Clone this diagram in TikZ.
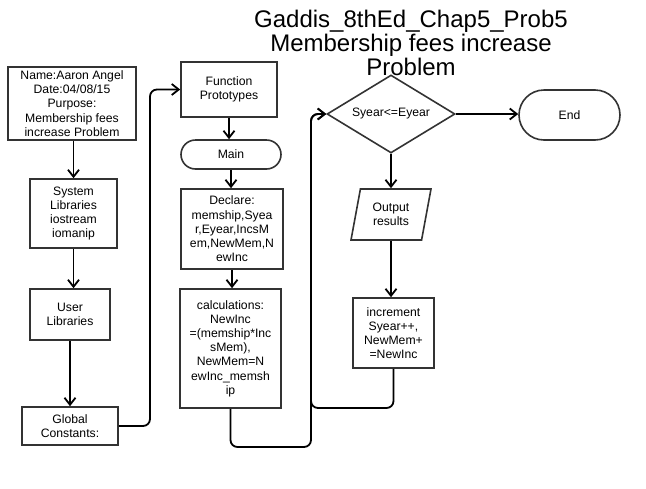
\documentclass[tikz,border=0pt]{standalone}
\usepackage{fontspec}
\setmainfont{Liberation Sans}
\usetikzlibrary{arrows.meta,shapes.geometric}
\begin{document}
\begin{tikzpicture}[x=1pt,y=-1pt,
  base/.style={draw=black!80, line width=1.6pt, align=center,
    font=\fontsize{12.2}{14.2}\selectfont, inner sep=0pt, text=black},
  box/.style={base, rectangle},
  term/.style={base, rectangle, rounded corners=#1},
  dec/.style={base, diamond, aspect=1.64},
  io/.style={base, trapezium, trapezium left angle=67.6, trapezium right angle=112.4, trapezium stretches body},
  title/.style={font=\fontsize{24}{24}\selectfont, anchor=base, inner sep=0pt},
  arr/.style={draw=black, line width=1.8pt, rounded corners=7pt,
    -{Straight Barb[length=7pt,width=11pt]}}
]
\useasboundingbox (0,0) rectangle (646,488);

\node[title] (t1) at (411,27) {Gaddis\_8thEd\_Chap5\_Prob5};
\node[title] (t2) at (411,51) {Membership fees increase};
\node[title] (t3) at (411,75) {Problem};

\node[box, minimum width=128, minimum height=73] (name) at (72,103.5)
  {Name:Aaron Angel\\Date:04/08/15\\Purpose:\\Membership fees\\increase Problem};
\node[box, minimum width=87, minimum height=69] (sys) at (73.5,213.5)
  {System\\Libraries\\iostream\\iomanip};
\node[box, minimum width=80, minimum height=51] (user) at (70,314.5)
  {User\\Libraries};
\node[box, minimum width=96, minimum height=38] (glob) at (70,426)
  {Global\\Constants:};

\node[box, minimum width=96, minimum height=55] (func) at (229,89.5)
  {Function\\Prototypes};
\node[term=14.5pt, minimum width=100, minimum height=29] (main) at (231,154.5)
  {Main};
\node[box, minimum width=102, minimum height=80] (decl) at (232,229)
  {Declare:\\memship,Syea\\r,Eyear,IncsM\\em,NewMem,N\\ewInc};
\node[box, minimum width=101, minimum height=119] (calc) at (230.5,348.5)
  {calculations:\\NewInc\\=(memship*Inc\\sMem),\\NewMem=N\\ewInc\_memsh\\ip};

\node[dec, minimum width=128, minimum height=78] (dia) at (391,114)
  {Syear<=Eyear};
\node[term=25pt, minimum width=101, minimum height=50] (end) at (569.5,115)
  {End};
\node[io, minimum width=80, minimum height=51] (out) at (391,214.5)
  {Output\\results};
\node[box, minimum width=81, minimum height=70] (inc) at (393.5,333)
  {increment\\Syear++,\\NewMem+\\=NewInc};

\coordinate (gb) at (150,426);
\coordinate (cb) at (311,447);
\coordinate (ib) at (311,408);

\draw[arr] (name.south -| sys.north) -- (sys.north);
\draw[arr] (sys.south) -- (sys.south |- user.north);
\draw[arr] (user.south) -- (glob.north);
\draw[arr] (glob.east) -- (gb) |- (func.west);
\draw[arr] (func.south) -- (func.south |- main.north);
\draw[arr] (main.south) -- (main.south |- decl.north);
\draw[arr] (decl.south) -- (decl.south |- calc.north);
\draw[arr] (calc.south) |- (cb) -- (cb |- dia.west) -- (dia.west);
\draw[arr] (dia.east) -- (dia.east -| end.west);
\draw[arr] (dia.south) -- (out.north);
\draw[arr] (out.south) -- (out.south |- inc.north);
\draw[arr] (inc.south) |- (ib) -- (ib |- dia.west) -- (dia.west);
\end{tikzpicture}
\end{document}
